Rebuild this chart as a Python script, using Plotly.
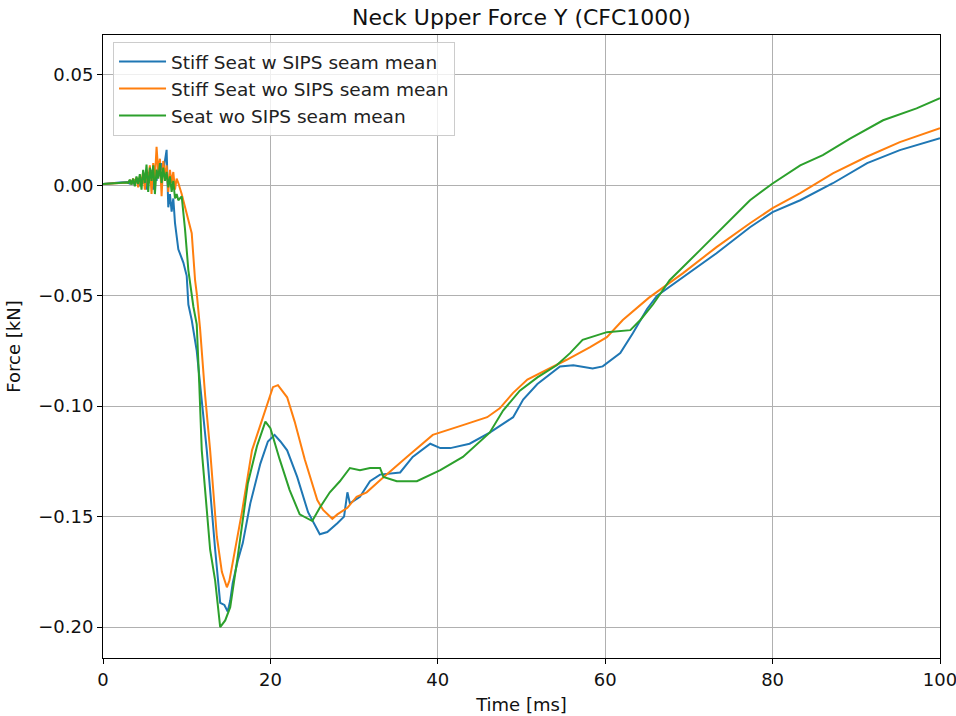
import plotly.graph_objects as go

# Neck upper force Y (CFC1000 filtered), mean curves per seat configuration
t_w_sips = [0.0, 0.4, 0.8, 1.2, 1.6, 2.0, 2.4, 2.8,
            3.0, 3.2, 3.4, 3.6, 3.8, 4.0, 4.2, 4.4, 4.6, 4.8, 5.0, 5.2, 5.4, 5.6, 5.8,
            6.0, 6.2, 6.4, 6.6, 6.8, 7.0, 7.2, 7.4, 7.6, 7.8, 8.0, 8.2, 8.4, 8.6, 8.8,
            9.0, 9.6, 10.0, 10.2, 10.6, 11.2, 12.4, 13.4, 14.0, 14.5, 14.9, 15.2, 15.5,
            16.1, 16.7, 17.6, 18.8, 19.7, 20.5, 21.2, 22.0, 23.2, 24.5, 25.9, 26.8,
            28.0, 28.8, 29.2, 29.5, 30.7, 31.9, 33.1, 35.5, 37.0, 39.1, 40.3, 41.5,
            43.8, 46.2, 49.0, 50.2, 51.9, 54.6, 56.2, 58.5, 59.7, 61.8, 63.3, 65.0,
            66.2, 69.3, 73.3, 77.3, 80.0, 83.3, 87.2, 91.3, 95.2, 100.0]
f_w_sips = [0.0005, 0.0007, 0.0009, 0.001, 0.0011, 0.0012, 0.0013, 0.0014,
            0.0015, 0.0008, 0.0022, 0.0005, 0.0025, 0.0010, 0.0030, -0.0005, 0.0035, 0.0008, 0.0045, -0.002, 0.006, 0.001, 0.007,
            -0.002, 0.008, 0.002, 0.009, 0.004, 0.010, 0.006, 0.012, 0.016, -0.010, -0.004, -0.012, -0.006, -0.017, -0.022,
            -0.029, -0.035, -0.041, -0.054, -0.061, -0.075, -0.120, -0.165, -0.189, -0.190, -0.193, -0.188, -0.180,
            -0.170, -0.162, -0.144, -0.126, -0.116, -0.113, -0.116, -0.120, -0.132, -0.148, -0.158, -0.157,
            -0.153, -0.150, -0.139, -0.144, -0.141, -0.134, -0.131, -0.130, -0.123, -0.117, -0.119, -0.119,
            -0.117, -0.112, -0.105, -0.097, -0.090, -0.082, -0.0815, -0.083, -0.082, -0.076, -0.067, -0.056,
            -0.050, -0.0416, -0.0308, -0.019, -0.0122, -0.0068, 0.0009, 0.010, 0.0159, 0.0213]

t_wo_sips = [0.0, 0.4, 0.8, 1.2, 1.6, 2.0, 2.4, 2.8,
             3.0, 3.2, 3.4, 3.6, 3.8, 4.0, 4.2, 4.4, 4.6, 4.8, 5.0, 5.2, 5.4, 5.6, 5.8,
             6.0, 6.2, 6.4, 6.6, 6.8, 7.0, 7.2, 7.4, 7.6, 7.8, 8.0, 8.2, 8.4, 8.6, 8.8,
             9.0, 9.4, 10.0, 10.6, 11.0, 11.2, 11.6, 12.2, 12.8, 13.6, 14.2, 14.8, 15.1,
             15.5, 16.6, 17.8, 19.1, 20.3, 20.9, 22.0, 22.9, 24.1, 25.6, 26.3, 27.4,
             28.0, 29.2, 30.3, 31.5, 33.1, 36.3, 39.4, 43.0, 45.9, 47.4, 49.0, 50.7,
             53.0, 55.4, 58.2, 60.2, 62.1, 65.2, 69.3, 73.3, 77.3, 80.0, 83.3, 87.2,
             91.3, 95.2, 100.0]
f_wo_sips = [0.0005, 0.0006, 0.0008, 0.0009, 0.001, 0.0011, 0.0012, 0.0012,
             0.0012, 0.002, 0.0005, 0.003, 0.001, 0.0035, -0.001, 0.004, 0.0015, 0.006, -0.002, 0.007, 0.001, 0.009, -0.004,
             0.010, 0.003, 0.0174, 0.006, 0.012, -0.005, 0.011, 0.004, 0.009, -0.003, 0.007, 0.001, 0.006, -0.002, 0.003,
             0.001, -0.004, -0.0127, -0.0217, -0.043, -0.049, -0.065, -0.095, -0.120, -0.159, -0.175, -0.182, -0.179,
             -0.171, -0.148, -0.120, -0.105, -0.0914, -0.0905, -0.096, -0.107, -0.124, -0.1425, -0.147, -0.151,
             -0.149, -0.146, -0.141, -0.139, -0.1335, -0.123, -0.113, -0.1086, -0.105, -0.101, -0.094, -0.088,
             -0.0837, -0.079, -0.0733, -0.0688, -0.061, -0.051, -0.0398, -0.028, -0.0172, -0.0104, -0.0036, 0.0054,
             0.013, 0.0195, 0.0258]

t_seat = [0.0, 0.4, 0.8, 1.2, 1.6, 2.0, 2.4, 2.8,
          3.0, 3.2, 3.4, 3.6, 3.8, 4.0, 4.2, 4.4, 4.6, 4.8, 5.0, 5.2, 5.4, 5.6, 5.8,
          6.0, 6.2, 6.4, 6.6, 6.8, 7.0, 7.2, 7.4, 7.6, 7.8, 8.0, 8.2, 8.4, 8.6, 8.8,
          9.0, 9.4, 9.8, 10.2, 10.8, 11.2, 11.5, 11.8, 12.8, 13.4, 14.0, 14.6, 15.2,
          16.1, 17.3, 18.4, 19.4, 20.0, 21.1, 22.3, 23.5, 25.0, 25.9, 27.1, 28.3,
          29.5, 30.7, 31.9, 33.1, 33.5, 35.1, 37.5, 40.3, 43.0, 46.2, 47.8, 49.8,
          51.9, 54.2, 55.8, 57.3, 60.2, 63.0, 64.2, 65.7, 67.7, 71.3, 75.3, 77.3,
          80.0, 83.3, 86.0, 89.2, 93.2, 97.2, 100.0]
f_seat = [0.0006, 0.0007, 0.0008, 0.0009, 0.001, 0.001, 0.0011, 0.0012,
          0.001, 0.0025, 0.0003, 0.003, -0.0005, 0.004, 0.0005, 0.005, -0.002, 0.007, 0.001, 0.0093, -0.003, 0.008, 0.002,
          0.009, -0.004, 0.007, 0.003, 0.010, 0.001, 0.008, 0.002, 0.006, -0.001, 0.004, -0.003, 0.002, -0.006, -0.004,
          -0.0068, -0.005, -0.020, -0.0385, -0.055, -0.063, -0.090, -0.120, -0.165, -0.179, -0.200, -0.197, -0.191,
          -0.168, -0.135, -0.118, -0.107, -0.110, -0.124, -0.138, -0.149, -0.152, -0.146, -0.139, -0.134,
          -0.128, -0.129, -0.128, -0.128, -0.132, -0.134, -0.134, -0.129, -0.123, -0.112, -0.102, -0.093,
          -0.087, -0.0815, -0.076, -0.070, -0.0665, -0.0656, -0.061, -0.054, -0.043, -0.0295, -0.0145, -0.0068,
          0.0008, 0.009, 0.0136, 0.021, 0.0294, 0.0348, 0.0394]

series_names = ["Stiff Seat w SIPS seam mean", "Stiff Seat wo SIPS seam mean", "Seat wo SIPS seam mean"]
series_colors = ["#1f77b4", "#ff7f0e", "#2ca02c"]
x_ticks = [0, 20, 40, 60, 80, 100]
y_ticks = [0.05, 0.00, -0.05, -0.10, -0.15, -0.20]

FONT = "DejaVu Sans"

fig = go.Figure()
for i, (tx, fy) in enumerate([(t_w_sips, f_w_sips), (t_wo_sips, f_wo_sips), (t_seat, f_seat)]):
    fig.add_trace(go.Scatter(
        x=tx, y=fy, mode="lines", name=series_names[i],
        line=dict(color=series_colors[i], width=2),
        legendgroup=f"g{i}",
    ))

axis_common = dict(
    showgrid=True, gridcolor="#b0b0b0", gridwidth=1,
    showline=True, linecolor="black", linewidth=1, mirror=True,
    ticks="outside", ticklen=5, tickwidth=1, tickcolor="black",
    zeroline=False, automargin=False,
    tickfont=dict(family=FONT, size=18, color="#111111"),
)

fig.update_layout(
    width=956, height=716,
    margin=dict(l=103, r=16, t=35, b=58),
    paper_bgcolor="white", plot_bgcolor="white",
    title=dict(text="Neck Upper Force Y (CFC1000)", x=0.5455, xanchor="center",
               y=0.976, yanchor="middle",
               font=dict(family=FONT, size=22, color="#111111")),
    xaxis=dict(range=[0, 100], tickvals=x_ticks, ticklabeloverflow="allow",
               title=dict(text="Time [ms]", font=dict(family=FONT, size=18, color="#111111"), standoff=9),
               **axis_common),
    yaxis=dict(range=[-0.214, 0.068], tickvals=y_ticks, tickformat=".2f",
               title=dict(text="Force [kN]", font=dict(family=FONT, size=18, color="#111111"), standoff=12),
               **axis_common),
    legend=dict(x=0.012, y=0.989, xanchor="left", yanchor="top",
                bgcolor="rgba(255,255,255,0.8)", bordercolor="#cccccc", borderwidth=1,
                font=dict(family=FONT, size=18.5, color="#222222"),
                itemwidth=47,
                tracegroupgap=3, traceorder="normal"),
    showlegend=True,
)

fig.write_html("out.html")
